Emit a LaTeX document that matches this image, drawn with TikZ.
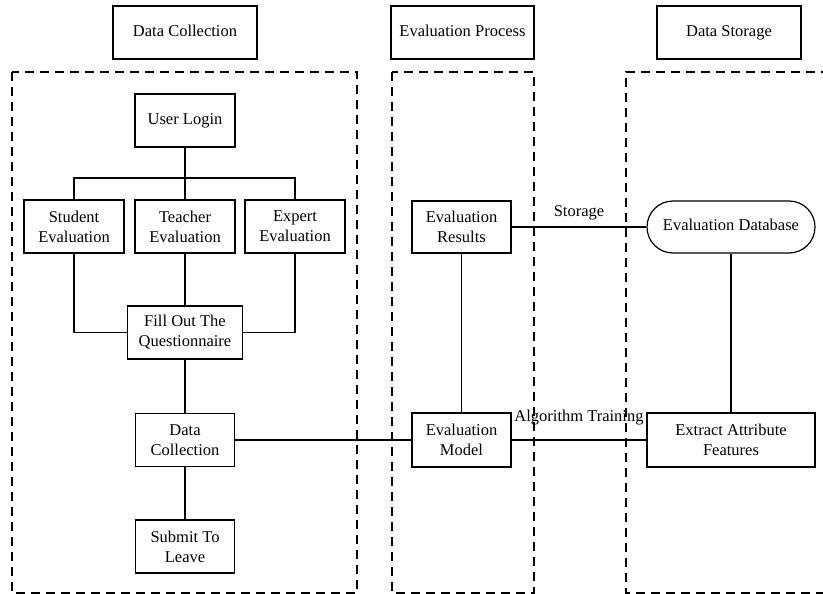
\documentclass[tikz,border=0pt]{standalone}
\usepackage{fontspec}
\setmainfont{Liberation Serif}
\begin{document}
\begin{tikzpicture}[x=1bp,y=-1bp,
  every node/.style={font=\fontsize{16.5bp}{20bp}\selectfont},
  box/.style={draw, line width=1.2bp, minimum width=100bp, minimum height=53bp, align=center, inner sep=0pt},
  oneline/.style={text height=11.5bp, text depth=3.5bp},
  widebox/.style={box, minimum width=168bp},
  dbbox/.style={box, minimum width=168bp, minimum height=52bp, rounded corners=26bp},
  lane/.style={draw, line width=1.2bp, dash pattern=on 9bp off 6bp},
  conn/.style={draw, line width=1.2bp},
  lbl/.style={inner sep=0pt}]
\useasboundingbox (0,0) rectangle (823,594);
% headers
\node[box, oneline, minimum width=144bp] (h1) at (185,32.5) {Data Collection};
\node[box, oneline, minimum width=143bp] (h2) at (462.5,32.5) {Evaluation Process};
\node[box, oneline, minimum width=144bp] (h3) at (729,32.5) {Data Storage};
% lanes
\draw[lane] (12,72) rectangle (357,593);
\draw[lane] (392,72) rectangle (534,593);
\begin{scope}
\clip (0,0) rectangle (823,594);
\draw[lane] (845,72) -- (626,72) -- (626,593) -- (845,593);
\end{scope}
% left lane nodes
\node[box, oneline] (ul) at (185,120.5) {User Login};
\node[box] (se) at (74,226.5) {Student\\Evaluation};
\node[box] (te) at (185,226.5) {Teacher\\Evaluation};
\node[box] (ee) at (295,226.5) {Expert\\Evaluation};
\node[box, minimum width=115bp] (fq) at (185,332.5) {Fill Out The\\Questionnaire};
\node[box, minimum width=99bp] (dc) at (185,440) {Data\\Collection};
\node[box, minimum width=99bp] (sl) at (185,546.5) {Submit To\\Leave};
% middle lane nodes
\node[box, minimum width=99bp, minimum height=52bp] (er) at (461.5,227) {Evaluation\\Results};
\node[box, minimum width=99bp, minimum height=54bp] (em) at (461.5,440) {Evaluation\\Model};
% right lane nodes
\node[dbbox, oneline] (db) at (731,227) {Evaluation Database};
\node[widebox, minimum height=54bp] (ea) at (731,440) {Extract Attribute\\Features};
% connectors
\coordinate (br) at (185,178);
\draw[conn] (ul) -- (br);
\draw[conn] (br) -| (se);
\draw[conn] (br) -| (ee);
\draw[conn] (br) -- (te);
\draw[conn] (se.south) |- (fq.west);
\draw[conn] (ee.south) |- (fq.east);
\draw[conn] (te) -- (fq);
\draw[conn] (fq) -- (dc);
\draw[conn] (dc) -- (sl);
\draw[conn] (dc.east) -- (em.west);
\draw[conn] (er) -- (em);
\draw[conn] (er.east) -- node[lbl, midway, yshift=14bp] {Storage} (db.west);
\draw[conn] (em.east) -- node[lbl, midway, yshift=22bp] {Algorithm Training} (ea.west);
\draw[conn] (db) -- (ea);
\end{tikzpicture}
\end{document}
